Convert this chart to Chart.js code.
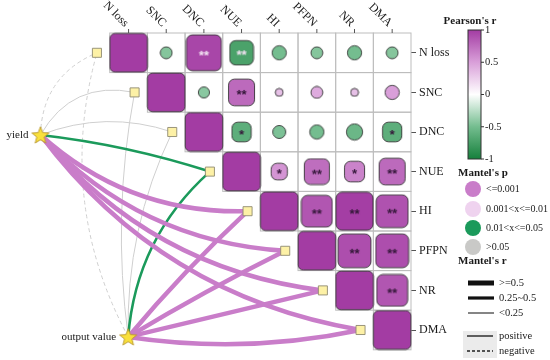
<!DOCTYPE html>
<html>
<head>
<meta charset="utf-8">
<title>Pearson's r and Mantel test</title>
<script src="https://cdn.jsdelivr.net/npm/chart.js@4.4.1/dist/chart.umd.min.js"></script>
<style>
  body { margin: 0; background: #fff; }
  #box { width: 550px; height: 360px; }
</style>
</head>
<body>
<div id="box"><canvas id="mantel" width="550" height="360"></canvas></div>
<script>
const variables = ['N loss', 'SNC', 'DNC', 'NUE', 'HI', 'PFPN', 'NR', 'DMA'];

// Pearson's r, upper triangle, each row starts at the diagonal
const rNLoss = [1, -0.44, 0.95, -0.72, -0.50, -0.44, -0.50, -0.44];
const rSNC   = [1, -0.42, 0.77, 0.33, 0.44, 0.33, 0.50];
const rDNC   = [1, -0.62, -0.47, -0.50, -0.55, -0.62];
const rNUE   = [1, 0.55, 0.75, 0.64, 0.77];
const rHI    = [1, 0.87, 0.99, 0.89];
const rPFPN  = [1, 0.91, 0.91];
const rNR    = [1, 0.87];
const rDMA   = [1];

// significance marks, same layout
const sigNLoss = ['', '', '**', '**', '', '', '', ''];
const sigSNC   = ['', '', '**', '', '', '', ''];
const sigDNC   = ['', '*', '', '', '', '*'];
const sigNUE   = ['', '*', '**', '*', '**'];
const sigHI    = ['', '**', '**', '**'];
const sigPFPN  = ['', '**', '**'];
const sigNR    = ['', '**'];
const sigDMA   = [''];

// Mantel test, one value per variable
const specNames = ['yield', 'output value'];
const mantelRYield  = [-0.12, 0.16, 0.14, 0.38, 0.66, 0.68, 0.63, 0.65];
const mantelPYield  = [0.21, 0.12, 0.15, 0.02, 0.001, 0.001, 0.001, 0.001];
const mantelROutput = [-0.10, 0.15, 0.13, 0.36, 0.64, 0.66, 0.61, 0.63];
const mantelPOutput = [0.25, 0.14, 0.17, 0.03, 0.001, 0.001, 0.001, 0.001];

const rRows = [rNLoss, rSNC, rDNC, rNUE, rHI, rPFPN, rNR, rDMA];
const sigRows = [sigNLoss, sigSNC, sigDNC, sigNUE, sigHI, sigPFPN, sigNR, sigDMA];
const mantelR = [mantelRYield, mantelROutput];
const mantelP = [mantelPYield, mantelPOutput];
const n = variables.length;

// layout (data units of the grid)
const specPoints = [{ x: -1.84, y: 2.575 }, { x: 0.49, y: 7.675 }];
const nodePoints = variables.map((v, i) => ({ x: i - 0.34, y: i + 0.5 }));
const cellPoints = [];
rRows.forEach((row, i) => row.forEach((r, k) => {
  cellPoints.push({ x: i + k + 0.5, y: i + 0.5, r: r, sig: sigRows[i][k], row: i, diag: k === 0 });
}));

// bend of each link (style only)
const linkCurv = [
  [0.32, 0.36, 0.18, 0.05, -0.2, -0.2, -0.2, -0.2],
  [0.2, 0.08, 0.12, 0.2, 0.03, 0.02, 0.0, -0.09]
];

const colorStops = [[-1, '#16803c'], [-0.5, '#74bd8f'], [0, '#ffffff'], [0.5, '#d99fd9'], [1, '#a33ca3']];
function hexRgb(h) { return [1, 3, 5].map(i => parseInt(h.substr(i, 2), 16)); }
function rColor(r) {
  for (let k = 1; k < colorStops.length; k++) {
    const [v0, c0] = colorStops[k - 1], [v1, c1] = colorStops[k];
    if (r <= v1) {
      const t = (r - v0) / (v1 - v0), a = hexRgb(c0), b = hexRgb(c1);
      return 'rgb(' + a.map((q, i) => Math.round(q + (b[i] - q) * t)).join(',') + ')';
    }
  }
  return colorStops[colorStops.length - 1][1];
}

function roundedPath(g, x, y, w, h, rad) {
  g.beginPath();
  g.moveTo(x + rad, y);
  g.arcTo(x + w, y, x + w, y + h, rad);
  g.arcTo(x + w, y + h, x, y + h, rad);
  g.arcTo(x, y + h, x, y, rad);
  g.arcTo(x, y, x + w, y, rad);
  g.closePath();
}

function cellGlyph(p) {
  const k = Math.pow(Math.abs(p.r), 1.4);
  let w = 37.5 * k, h = 38.5 * k, rad;
  if (p.diag || p.sig) {
    rad = Math.min(p.diag ? 5 : 6, w / 2);
  } else {
    w = h = 37.5 * k;
    rad = w / 2;
  }
  const c = document.createElement('canvas');
  c.width = Math.ceil(w) + 2;
  c.height = Math.ceil(h) + 2;
  const g = c.getContext('2d');
  roundedPath(g, (c.width - w) / 2, (c.height - h) / 2, w, h, rad);
  g.fillStyle = rColor(p.r);
  g.fill();
  g.strokeStyle = 'rgba(45,45,45,0.85)';
  g.lineWidth = 1;
  g.stroke();
  if (p.sig) {
    g.fillStyle = p.row === 0 ? '#f3e3f3' : '#35183a';
    g.font = 'bold 13px "Liberation Sans"';
    g.textAlign = 'center';
    g.textBaseline = 'middle';
    g.fillText(p.sig, c.width / 2, c.height / 2 + 3);
  }
  return c;
}
const glyphs = cellPoints.map(cellGlyph);

function starGlyph() {
  const c = document.createElement('canvas');
  c.width = 20; c.height = 20;
  const g = c.getContext('2d');
  g.beginPath();
  for (let i = 0; i < 10; i++) {
    const a = -Math.PI / 2 + i * Math.PI / 5, rr = i % 2 ? 3.9 : 9;
    g.lineTo(10 + rr * Math.cos(a), 10.8 + rr * Math.sin(a));
  }
  g.closePath();
  g.fillStyle = '#f9e03c';
  g.fill();
  g.strokeStyle = '#b8962a';
  g.lineWidth = 0.9;
  g.stroke();
  return c;
}

function linkColor(p) {
  if (p <= 0.001) return '#c97dc9';
  if (p <= 0.01) return '#efd3ef';
  if (p <= 0.05) return '#1b9a5b';
  return '#cfcfcf';
}
function linkWidth(r) {
  const a = Math.abs(r);
  return a >= 0.5 ? 4.5 : (a >= 0.25 ? 2.6 : 1);
}

const gridAndLinks = {
  id: 'gridAndLinks',
  beforeDatasetsDraw(chart) {
    const { ctx, scales: { x, y } } = chart;
    ctx.save();
    ctx.strokeStyle = '#bdbdbd';
    ctx.lineWidth = 1;
    for (let i = 0; i < n; i++) {
      for (let j = i; j < n; j++) {
        const x0 = x.getPixelForValue(j), x1 = x.getPixelForValue(j + 1);
        const y0 = y.getPixelForValue(i), y1 = y.getPixelForValue(i + 1);
        ctx.strokeRect(x0, y0, x1 - x0, y1 - y0);
      }
    }
    const specEls = chart.getDatasetMeta(0).data;
    const envEls = chart.getDatasetMeta(1).data;
    const links = [];
    mantelR.forEach((rs, s) => rs.forEach((r, e) => links.push({ s, e, r, p: mantelP[s][e] })));
    links.sort((a, b) => linkWidth(a.r) - linkWidth(b.r));
    links.forEach(l => {
      const a = specEls[l.s], b = envEls[l.e];
      const dx = b.x - a.x, dy = b.y - a.y, cv = linkCurv[l.s][l.e];
      const cx = (a.x + b.x) / 2 + cv * dy, cy = (a.y + b.y) / 2 - cv * dx;
      ctx.beginPath();
      ctx.moveTo(a.x, a.y);
      ctx.quadraticCurveTo(cx, cy, b.x, b.y);
      ctx.strokeStyle = linkColor(l.p);
      ctx.lineWidth = linkWidth(l.r);
      ctx.setLineDash(l.r < 0 ? [4, 3] : []);
      ctx.stroke();
    });
    ctx.restore();
  }
};

const labelsAndLegend = {
  id: 'labelsAndLegend',
  afterDraw(chart) {
    const { ctx, scales: { x, y }, chartArea } = chart;
    ctx.save();
    // top labels
    ctx.font = '12px "Liberation Serif"';
    ctx.fillStyle = '#1a1a1a';
    ctx.strokeStyle = '#555';
    ctx.lineWidth = 1;
    variables.forEach((v, j) => {
      const px = x.getPixelForValue(j + 0.5);
      ctx.beginPath();
      ctx.moveTo(px, chartArea.top - 4);
      ctx.lineTo(px, chartArea.top);
      ctx.stroke();
      ctx.save();
      ctx.translate(px - 2, chartArea.top - 8);
      ctx.rotate(Math.PI / 4);
      ctx.textAlign = 'right';
      ctx.textBaseline = 'middle';
      ctx.fillText(v, 0, 0);
      ctx.restore();
    });
    // spec labels
    ctx.font = '11px "Liberation Serif"';
    ctx.textAlign = 'right';
    ctx.textBaseline = 'middle';
    chart.getDatasetMeta(0).data.forEach((el, s) => ctx.fillText(specNames[s], el.x - 12, el.y));

    // Pearson's r colour bar
    ctx.textAlign = 'center';
    ctx.font = 'bold 11px "Liberation Serif"';
    ctx.fillText("Pearson's r", 470, 21);
    const bx = 468, bw = 13, byTop = 30, byBot = 159;
    const grad = ctx.createLinearGradient(0, byTop, 0, byBot);
    colorStops.forEach(([v, c]) => grad.addColorStop((1 - v) / 2, c));
    ctx.fillStyle = grad;
    ctx.fillRect(bx, byTop, bw, byBot - byTop);
    ctx.strokeStyle = '#333';
    ctx.strokeRect(bx, byTop, bw, byBot - byTop);
    ctx.font = '10.5px "Liberation Serif"';
    ctx.textAlign = 'left';
    ctx.fillStyle = '#1a1a1a';
    [1, 0.5, 0, -0.5, -1].forEach(v => {
      const py = byTop + (1 - v) / 2 * (byBot - byTop);
      ctx.beginPath();
      ctx.moveTo(bx + bw, py);
      ctx.lineTo(bx + bw + 3, py);
      ctx.stroke();
      ctx.fillText(String(v), bx + bw + 4, py);
    });

    // Mantel's p
    ctx.font = 'bold 11px "Liberation Serif"';
    ctx.fillText("Mantel's p", 458, 173);
    const pKeys = [['<=0.001', 0.001, 189], ['0.001<x<=0.01', 0.005, 209], ['0.01<x<=0.05', 0.03, 228], ['>0.05', 0.5, 247]];
    ctx.font = '10px "Liberation Serif"';
    pKeys.forEach(([t, p, py]) => {
      ctx.beginPath();
      ctx.arc(473, py, 8, 0, Math.PI * 2);
      ctx.fillStyle = linkColor(p) === '#cfcfcf' ? '#c9c9c7' : linkColor(p);
      ctx.fill();
      ctx.fillStyle = '#1a1a1a';
      ctx.fillText(t, 486, py);
    });

    // Mantel's r
    ctx.font = 'bold 11px "Liberation Serif"';
    ctx.fillText("Mantel's r", 458, 261);
    ctx.font = '10.5px "Liberation Serif"';
    [['>=0.5', 0.6, 283, '#111'], ['0.25~0.5', 0.3, 298, '#111'], ['<0.25', 0.1, 313, '#666']].forEach(([t, r, py, c]) => {
      ctx.beginPath();
      ctx.moveTo(468, py);
      ctx.lineTo(494, py);
      ctx.strokeStyle = c;
      ctx.lineWidth = linkWidth(r) + (r >= 0.5 ? 0.5 : 0.6);
      ctx.stroke();
      ctx.fillText(t, 499, py);
    });
    ctx.fillStyle = '#ebebeb';
    ctx.fillRect(463, 331, 34, 27);
    ctx.strokeStyle = '#222';
    ctx.lineWidth = 1.4;
    ctx.beginPath();
    ctx.moveTo(467, 336); ctx.lineTo(493, 336);
    ctx.stroke();
    ctx.setLineDash([3, 2]);
    ctx.beginPath();
    ctx.moveTo(467, 351); ctx.lineTo(493, 351);
    ctx.stroke();
    ctx.setLineDash([]);
    ctx.fillStyle = '#1a1a1a';
    ctx.fillText('positive', 499, 336);
    ctx.fillText('negative', 499, 351);
    ctx.restore();
  }
};

new Chart(document.getElementById('mantel'), {
  type: 'scatter',
  data: {
    datasets: [
      { label: 'spec', data: specPoints, pointStyle: starGlyph(), pointRadius: 8, clip: false },
      { label: 'env', data: nodePoints, pointStyle: 'rect', pointRadius: 6.4,
        backgroundColor: '#fdf1a6', borderColor: '#8f8a70', borderWidth: 0.9, clip: false },
      { label: 'r', data: cellPoints, pointStyle: c => glyphs[c.dataIndex], pointRadius: 3, clip: false }
    ]
  },
  options: {
    responsive: false,
    animation: false,
    events: [],
    layout: { padding: { left: 0, right: 89, top: 33, bottom: 7 } },
    plugins: { legend: { display: false }, tooltip: { enabled: false } },
    scales: {
      x: { type: 'linear', display: false, min: -2.675, max: 8 },
      y: {
        type: 'linear', reverse: true, min: 0, max: 8, position: 'right',
        afterBuildTicks: s => { s.ticks = variables.map((v, i) => ({ value: i + 0.5 })); },
        afterFit: s => { s.width = 50; },
        grid: { drawOnChartArea: false, tickLength: 5, color: '#555' },
        border: { display: false },
        ticks: {
          padding: 3, color: '#1a1a1a',
          font: { family: 'Liberation Serif', size: 12 },
          callback: (v, i) => variables[i]
        }
      }
    }
  },
  plugins: [gridAndLinks, labelsAndLegend]
});
</script>
</body>
</html>
